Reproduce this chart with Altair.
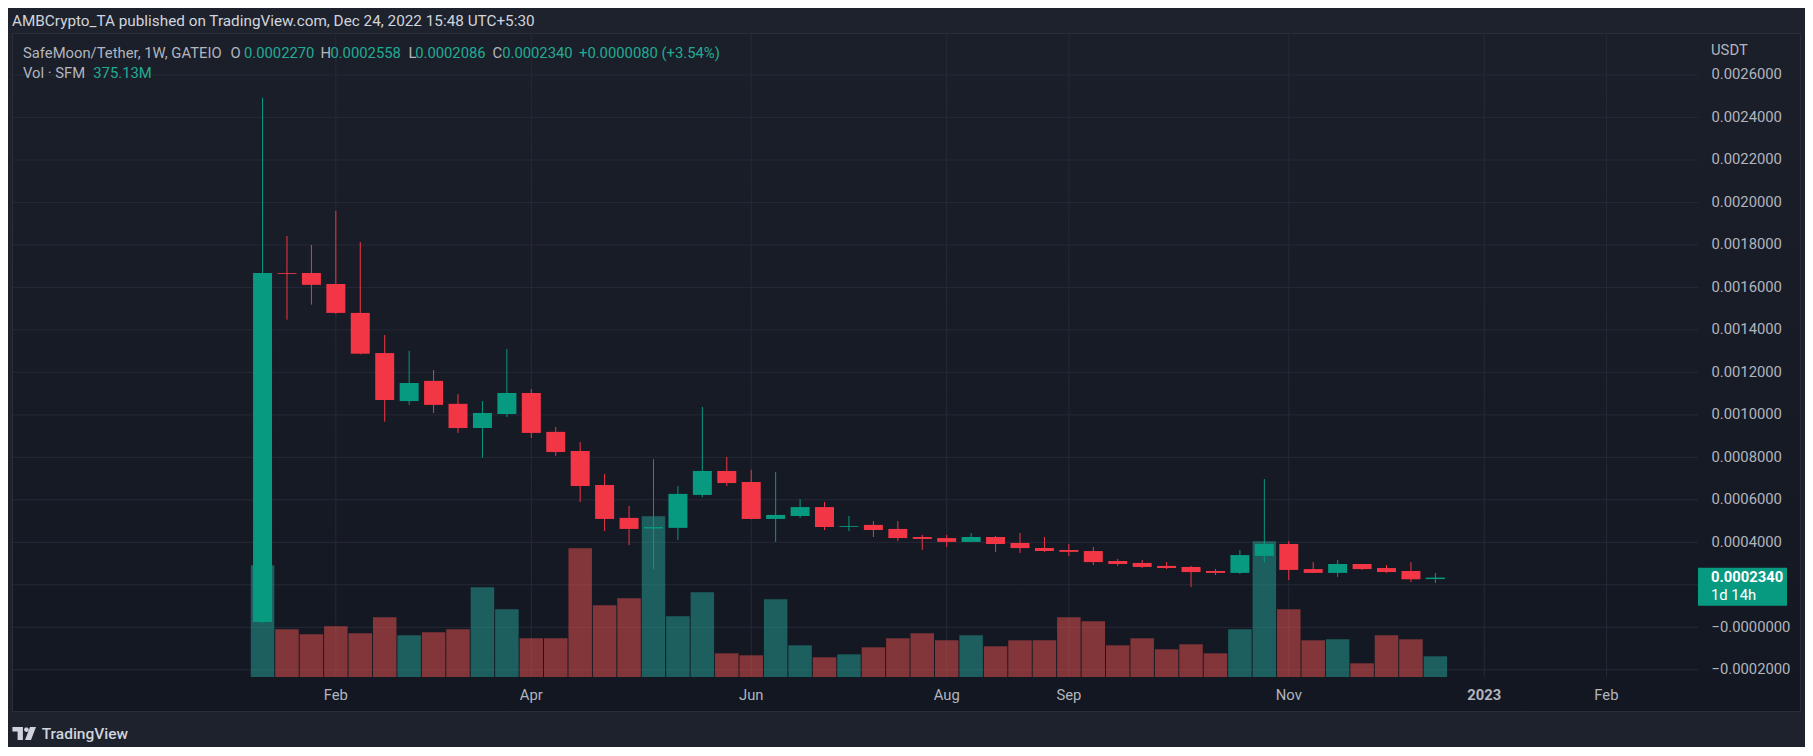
import math
import altair as alt
import pandas as pd

# ---------------- data (prices in units of 1e-4 USDT, volume in millions SFM) ----------------
PRICE_UNIT = 1e-4
week_start = [d.strftime("%Y-%m-%d") for d in pd.date_range("2022-01-17", periods=49, freq="7D")]

open_ = [0.25, 16.68, 16.68, 16.16, 14.80, 12.91, 10.65, 11.60, 10.52, 9.38,
         10.04, 11.03, 9.20, 8.30, 6.70, 5.15, 4.65, 4.68, 6.23, 7.36,
         6.84, 5.10, 5.24, 5.66, 4.73, 4.82, 4.63, 4.25, 4.20, 4.02,
         4.25, 3.97, 3.73, 3.64, 3.59, 3.12, 3.03, 2.89, 2.84, 2.65,
         2.56, 3.36, 3.92, 2.74, 2.56, 2.98, 2.79, 2.65, 2.270]
high = [24.93, 18.42, 18.00, 19.60, 18.14, 13.76, 13.01, 12.11, 10.98, 10.65,
        13.10, 11.22, 9.43, 8.72, 7.22, 5.71, 7.92, 6.65, 10.37, 8.02,
        7.41, 7.31, 6.04, 5.90, 5.24, 5.00, 5.00, 4.35, 4.35, 4.44,
        4.30, 4.44, 4.25, 3.92, 3.78, 3.22, 3.17, 3.07, 2.89, 2.74,
        3.64, 6.98, 4.06, 3.07, 3.17, 2.98, 2.93, 3.07, 2.558]
low = [0.20, 14.48, 15.19, 14.75, 12.85, 9.68, 10.47, 10.09, 9.15, 7.99,
       9.90, 8.91, 8.07, 5.90, 4.53, 3.87, 2.74, 4.11, 6.13, 6.65,
       5.08, 4.02, 5.15, 4.58, 4.53, 4.25, 4.06, 3.64, 3.78, 4.02,
       3.55, 3.50, 3.55, 3.36, 2.93, 2.89, 2.79, 2.74, 1.90, 2.46,
       2.51, 3.07, 2.23, 2.56, 2.37, 2.70, 2.56, 2.13, 2.086]
close = [16.68, 16.64, 16.12, 14.80, 12.88, 10.70, 11.50, 10.47, 9.38, 10.09,
         11.03, 9.15, 8.25, 6.65, 5.10, 4.63, 4.72, 6.28, 7.36, 6.79,
         5.10, 5.29, 5.66, 4.72, 4.77, 4.58, 4.20, 4.16, 4.02, 4.25,
         3.92, 3.73, 3.59, 3.55, 3.07, 2.98, 2.84, 2.79, 2.60, 2.56,
         3.40, 3.92, 2.70, 2.56, 2.98, 2.74, 2.60, 2.26, 2.340]
volume_m = [2024, 864, 774, 919, 792, 1082, 756, 810, 864, 1625,
            1227, 701, 701, 2332, 1299, 1426, 2912, 1100, 1535, 429,
            393, 1408, 574, 357, 411, 538, 701, 792, 665, 756,
            556, 665, 665, 1082, 1009, 574, 701, 502, 593, 429,
            864, 2459, 1227, 665, 683, 248, 756, 683, 375.13]

month_label_weeks = ["2022-02-07", "2022-04-04", "2022-06-06", "2022-08-01",
                     "2022-09-05", "2022-11-07", "2023-01-02", "2023-02-06"]
price_ticks = [-0.0002, 0.0, 0.0002, 0.0004, 0.0006, 0.0008, 0.0010, 0.0012, 0.0014,
               0.0016, 0.0018, 0.0020, 0.0022, 0.0024, 0.0026]

header_text = "AMBCrypto_TA published on TradingView.com, Dec 24, 2022 15:48 UTC+5:30"
symbol_text = "SafeMoon/Tether, 1W, GATEIO"
countdown_text = "1d 14h"

# ---------------- tables ----------------
df = pd.DataFrame({
    "date": week_start,
    "open": [v * PRICE_UNIT for v in open_],
    "high": [v * PRICE_UNIT for v in high],
    "low": [v * PRICE_UNIT for v in low],
    "close": [v * PRICE_UNIT for v in close],
    "vol": volume_m,
})
last = df.iloc[-1]
prev_close = df.iloc[-2]["close"]
chg = last["close"] - prev_close
last_df = pd.DataFrame({"close": [last["close"]], "ptxt": [f"{last['close']:.7f}"], "cd": [countdown_text]})

month_df = pd.DataFrame({"d": month_label_weeks})
month_df["txt"] = [pd.Timestamp(d).strftime("%Y") if pd.Timestamp(d).month == 1 else pd.Timestamp(d).strftime("%b")
                   for d in month_label_weeks]
month_df["year"] = [pd.Timestamp(d).month == 1 for d in month_label_weeks]

# ---------------- layout / style ----------------
FONT = "Roboto"
OUTER = "#1e222d"
GRID = "#262a36"
TXT = "#b2b5be"
UP = "#089981"
DOWN = "#f23645"
VOL_UP = "#26a69a"
VOL_DOWN = "#ef5350"
VAL = "#22ab94"
FS = 14.8

VIEW_W, VIEW_H = 1685, 643
PX_PER_WEEK = 24.58
FIRST_BAR_X = 246
t0 = pd.Timestamp(week_start[0]).value // 10**6
ms_per_px = 7 * 86400000 / PX_PER_WEEK
x_domain = [t0 - FIRST_BAR_X * ms_per_px, t0 + (VIEW_W - FIRST_BAR_X) * ms_per_px]

xscale = alt.Scale(type="utc", domain=x_domain)
yscale = alt.Scale(domain=[-0.000234, 0.002793], nice=False, zero=False)
vscale = alt.Scale(domain=[0, 11650], nice=False)

is_up = "datum.close >= datum.open"

y_axis = alt.Axis(
    orient="right", values=price_ticks,
    labelExpr="abs(datum.value - 0.0002) < 1e-9 ? '' : (datum.value < 1e-9 ? '\u2212' + format(abs(datum.value), '.7f') : format(datum.value, '.7f'))",
    grid=False, ticks=False, tickSize=0, domain=False,
    labelPadding=13, labelAlign="left", labelBaseline="middle", labelFont=FONT, labelFontSize=FS,
    labelColor=TXT, labelFlush=False, labelOverlap=False, title=None, zindex=1,
)

one = pd.DataFrame({"k": [0]})

# pane background
pane = alt.Chart(one).mark_rect(
    fill=alt.Gradient(gradient="linear",
                      stops=[alt.GradientStop(color="#1b1f2a", offset=0),
                             alt.GradientStop(color="#131722", offset=1)],
                      x1=0, x2=0, y1=0, y2=1),
    stroke="#2a2e39", strokeWidth=1,
).encode(x=alt.value(-0.5), x2=alt.value(1787.5), y=alt.value(-0.5), y2=alt.value(677.5))

vgrid = alt.Chart(month_df).mark_rule(color=GRID, strokeWidth=1).encode(
    x=alt.X("d:T", scale=xscale, axis=None), y=alt.value(0), y2=alt.value(VIEW_H))
hgrid = alt.Chart(pd.DataFrame({"p": price_ticks})).mark_rule(color=GRID, strokeWidth=1).encode(
    y=alt.Y("p:Q", scale=yscale, axis=y_axis), x=alt.value(0), x2=alt.value(VIEW_W))

# time-axis labels, placed through the x scale
month_lbl = alt.Chart(month_df).transform_filter("!datum.year").mark_text(
    align="center", baseline="middle", font=FONT, fontSize=FS, color=TXT).encode(
    x=alt.X("d:T", scale=xscale, axis=None), y=alt.value(VIEW_H + 18.7), text="txt:N")
year_lbl = alt.Chart(month_df).transform_filter("datum.year").mark_text(
    align="center", baseline="middle", font=FONT, fontSize=FS, fontWeight="bold", color=TXT).encode(
    x=alt.X("d:T", scale=xscale, axis=None), y=alt.value(VIEW_H + 18.7), text="txt:N")

vol = alt.Chart(df).mark_bar(size=23.5, opacity=0.5).encode(
    x=alt.X("date:T", scale=xscale, axis=None),
    y=alt.Y("vol:Q", scale=vscale, axis=None),
    color=alt.condition(is_up, alt.value(VOL_UP), alt.value(VOL_DOWN)),
)
wicks = alt.Chart(df).mark_rule(strokeWidth=1).encode(
    x=alt.X("date:T", scale=xscale, axis=None),
    y=alt.Y("low:Q", scale=yscale, axis=None), y2="high:Q",
    color=alt.condition(is_up, alt.value(UP), alt.value(DOWN)),
)
bodies = alt.Chart(df).mark_bar(size=19).encode(
    x=alt.X("date:T", scale=xscale, axis=None),
    y=alt.Y("open:Q", scale=yscale, axis=None), y2="close:Q",
    color=alt.condition(is_up, alt.value(UP), alt.value(DOWN)),
)

tag = alt.Chart(last_df).mark_rect(color=UP, yOffset=-9.9, y2Offset=28.1).encode(
    y=alt.Y("close:Q", scale=yscale, axis=None), y2="close:Q",
    x=alt.value(VIEW_W), x2=alt.value(VIEW_W + 89))
tag_price = alt.Chart(last_df).mark_text(align="left", baseline="middle", font=FONT, fontSize=FS,
                                         fontWeight="bold", color="#ffffff").encode(
    y=alt.Y("close:Q", scale=yscale, axis=None), x=alt.value(VIEW_W + 13), text="ptxt:N")
tag_cd = alt.Chart(last_df).mark_text(align="left", baseline="middle", font=FONT, fontSize=FS,
                                      color="#ffffff", dy=18.3).encode(
    y=alt.Y("close:Q", scale=yscale, axis=None), x=alt.value(VIEW_W + 13), text="cd:N")


def label(text, x, y, color, size=FS, weight="normal"):
    return alt.Chart(pd.DataFrame({"t": [text]})).mark_text(
        align="left", baseline="middle", font=FONT, fontSize=size, fontWeight=weight, color=color
    ).encode(x=alt.value(x), y=alt.value(y), text="t:N")


texts = [
    label(header_text, -1, -13, "#d1d4dc", size=15.3),
    label(symbol_text, 10, 20, TXT),
    label("O", 217.5, 20, TXT), label(f"{last['open']:.7f}", 231, 20, VAL),
    label("H", 307.5, 20, TXT), label(f"{last['high']:.7f}", 317.4, 20, VAL),
    label("L", 395.5, 20, TXT), label(f"{last['low']:.7f}", 402.2, 20, VAL),
    label("C", 479.4, 20, TXT), label(f"{last['close']:.7f}", 489.2, 20, VAL),
    label(f"{chg:+.7f} ({chg / prev_close * 100:+.2f}%)", 566, 20, VAL),
    label("Vol \u00b7 SFM", 10, 40, TXT),
    label(f"{last['vol']:.2f}M", 80.3, 40, VAL),
    label("USDT", VIEW_W + 13, 17, TXT),
    label("TradingView", 28.7, 700, "#d1d4dc", size=15.5, weight=500),
]

# TradingView logo as a custom symbol path (24px box, unit coords)
def to_unit(pts):
    return " L ".join(f"{(px - 12) / 12:.4f} {(py - 12) / 12:.4f}" for px, py in pts)

t_shape = [(0, 5.5), (10.5, 5.5), (10.5, 18.5), (5.2, 18.5), (5.2, 10), (0, 10)]
slant = [(17.6, 5.5), (23.6, 5.5), (18.6, 18.5), (12.6, 18.5)]
dot = [(14.0 + 2.3 * math.cos(a * math.pi / 8), 8.2 + 2.3 * math.sin(a * math.pi / 8)) for a in range(16)]
logo_path = "M " + to_unit(t_shape) + " Z M " + to_unit(dot) + " Z M " + to_unit(slant) + " Z"
logo = alt.Chart(one).mark_point(shape=logo_path, filled=True, size=576, color="#d1d4dc",
                                 opacity=1, strokeWidth=0).encode(x=alt.value(11.4), y=alt.value(699.5))

chart = alt.layer(
    pane, vgrid, hgrid, vol, wicks, bodies, tag, tag_price, tag_cd, month_lbl, year_lbl, logo, *texts
).resolve_scale(y="independent").properties(
    width=VIEW_W, height=VIEW_H,
    padding={"left": 5, "top": 26, "right": 107, "bottom": 70},
    autosize=alt.AutoSizeParams(type="none"),
    background=OUTER,
).configure_view(stroke="transparent")

chart.save("out.html", embed_options={"renderer": "svg", "actions": False})
